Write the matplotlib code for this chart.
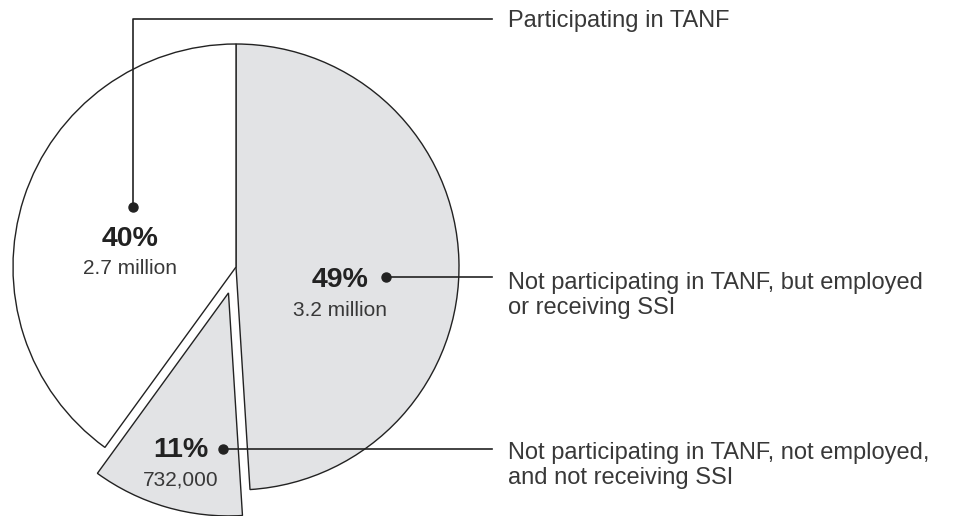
import matplotlib
matplotlib.use("Agg")
import matplotlib.pyplot as plt

# ---- data ----
shares = [49, 11, 40]
pct_labels = ["49%", "11%", "40%"]
count_labels = ["3.2 million", "732,000", "2.7 million"]
descriptions = [
    "Not participating in TANF, but employed\nor receiving SSI",
    "Not participating in TANF, not employed,\nand not receiving SSI",
    "Participating in TANF",
]
fills = ["#e2e3e5", "#e2e3e5", "#ffffff"]

W, H = 956, 516
plt.rcParams['font.family'] = ['Liberation Sans', 'DejaVu Sans']
fig = plt.figure(figsize=(W / 100, H / 100), dpi=100)
ax = fig.add_axes([0, 0, 1, 1])

def Y(p):  # pixel-from-top to data
    return H - p

cx, cy, R = 236, Y(267), 223
explode = [0, 27, 0]
wedges, _ = ax.pie(shares, colors=fills, startangle=90, counterclock=False,
                   center=(cx, cy), radius=R, explode=explode, frame=True,
                   wedgeprops=dict(edgecolor="#222222", linewidth=1.0))

ax.set_xlim(0, W)
ax.set_ylim(0, H)
ax.set_aspect('equal')
ax.axis('off')

ink = "#222222"
txt = "#383838"
# label placements (pixel coords): pct center, count center, dot
pct_pos = [(340, 280), (181, 450), (130, 239)]
cnt_pos = [(340, 310), (181, 480), (130, 268)]
dots = [(386, 277), (223, 449), (133, 207)]
line_end_x = 492
text_x = 508
desc_y = [295.5, 465.5, 20.5]

for i in range(3):
    ax.text(pct_pos[i][0], Y(pct_pos[i][1]), pct_labels[i], ha='center', va='center',
            fontsize=20.5, fontweight='bold', color=ink)
    ax.text(cnt_pos[i][0], Y(cnt_pos[i][1]), count_labels[i], ha='center', va='center',
            fontsize=15, color=txt)
    dx, dy = dots[i]
    ax.plot([dx], [Y(dy)], 'o', color=ink, markersize=6.5, zorder=5)
    if i == 2:
        ax.plot([dx, dx, line_end_x], [Y(dy), Y(19), Y(19)], color=ink, lw=1.2, zorder=4)
    else:
        ax.plot([dx, line_end_x], [Y(dy), Y(dy)], color=ink, lw=1.2, zorder=4)
    ax.text(text_x, Y(desc_y[i]), descriptions[i], ha='left', va='center',
            fontsize=17, color=txt, linespacing=1.22)

fig.savefig("out.png", dpi=100)
